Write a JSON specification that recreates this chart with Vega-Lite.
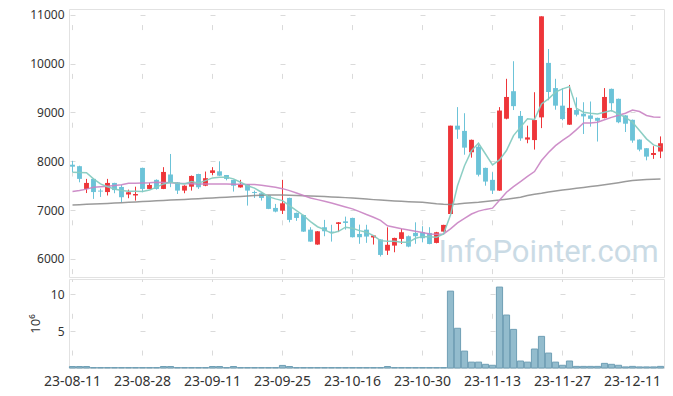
{
  "$schema": "https://vega.github.io/schema/vega-lite/v6.json",
  "padding": {"left": 28, "top": 8, "right": 10, "bottom": 5},
  "background": "white",
  "config": {
    "font": "Noto Sans",
    "view": {"stroke": "#e2e2e2"},
    "axis": {"labelColor": "#333", "labelFontSize": 12, "gridColor": "#dadada", "gridWidth": 1, "ticks": false, "domain": false, "labelPadding": 5}
  },
  "spacing": 0,
  "resolve": {"scale": {"x": "independent"}},
  "data": {"values": [
    {"date": "23-08-11", "o": 7930, "h": 8010, "l": 7780, "c": 7890, "v": 0.2, "m5": 7775, "m20": 7380, "mL": 7107},
    {"date": "23-08-14", "o": 7900, "h": 7910, "l": 7570, "c": 7640, "v": 0.2, "m5": 7770, "m20": 7400, "mL": 7112},
    {"date": "23-08-16", "o": 7434, "h": 7640, "l": 7350, "c": 7557, "v": 0.2, "m5": 7765, "m20": 7430, "mL": 7118},
    {"date": "23-08-17", "o": 7640, "h": 7650, "l": 7230, "c": 7370, "v": 0.06, "m5": 7640, "m20": 7470, "mL": 7125},
    {"date": "23-08-18", "o": 7400, "h": 7440, "l": 7270, "c": 7380, "v": 0.06, "m5": 7537, "m20": 7480, "mL": 7132},
    {"date": "23-08-21", "o": 7370, "h": 7640, "l": 7300, "c": 7557, "v": 0.06, "m5": 7480, "m20": 7490, "mL": 7138},
    {"date": "23-08-22", "o": 7557, "h": 7560, "l": 7346, "c": 7410, "v": 0.06, "m5": 7434, "m20": 7505, "mL": 7145},
    {"date": "23-08-23", "o": 7475, "h": 7516, "l": 7160, "c": 7264, "v": 0.06, "m5": 7400, "m20": 7520, "mL": 7152},
    {"date": "23-08-24", "o": 7320, "h": 7420, "l": 7244, "c": 7366, "v": 0.06, "m5": 7387, "m20": 7550, "mL": 7160},
    {"date": "23-08-25", "o": 7300, "h": 7480, "l": 7195, "c": 7330, "v": 0.06, "m5": 7387, "m20": 7553, "mL": 7167},
    {"date": "23-08-28", "o": 7865, "h": 7870, "l": 7366, "c": 7434, "v": 0.06, "m5": 7380, "m20": 7557, "mL": 7175},
    {"date": "23-08-29", "o": 7434, "h": 7557, "l": 7430, "c": 7516, "v": 0.06, "m5": 7410, "m20": 7560, "mL": 7182},
    {"date": "23-08-30", "o": 7620, "h": 7630, "l": 7420, "c": 7434, "v": 0.06, "m5": 7470, "m20": 7570, "mL": 7190},
    {"date": "23-08-31", "o": 7434, "h": 7880, "l": 7430, "c": 7782, "v": 0.2, "m5": 7537, "m20": 7565, "mL": 7197},
    {"date": "23-09-01", "o": 7730, "h": 8150, "l": 7470, "c": 7570, "v": 0.2, "m5": 7570, "m20": 7560, "mL": 7205},
    {"date": "23-09-04", "o": 7570, "h": 7575, "l": 7330, "c": 7400, "v": 0.06, "m5": 7550, "m20": 7550, "mL": 7212},
    {"date": "23-09-05", "o": 7400, "h": 7510, "l": 7346, "c": 7500, "v": 0.06, "m5": 7537, "m20": 7545, "mL": 7220},
    {"date": "23-09-06", "o": 7480, "h": 7710, "l": 7400, "c": 7700, "v": 0.06, "m5": 7585, "m20": 7540, "mL": 7227},
    {"date": "23-09-07", "o": 7740, "h": 7745, "l": 7434, "c": 7470, "v": 0.06, "m5": 7550, "m20": 7537, "mL": 7235},
    {"date": "23-09-08", "o": 7500, "h": 7790, "l": 7490, "c": 7654, "v": 0.06, "m5": 7605, "m20": 7537, "mL": 7242},
    {"date": "23-09-11", "o": 7762, "h": 7880, "l": 7720, "c": 7815, "v": 0.2, "m5": 7660, "m20": 7537, "mL": 7250},
    {"date": "23-09-12", "o": 7795, "h": 8000, "l": 7700, "c": 7705, "v": 0.2, "m5": 7675, "m20": 7537, "mL": 7257},
    {"date": "23-09-13", "o": 7720, "h": 7720, "l": 7610, "c": 7640, "v": 0.06, "m5": 7675, "m20": 7535, "mL": 7265},
    {"date": "23-09-14", "o": 7620, "h": 7625, "l": 7380, "c": 7500, "v": 0.2, "m5": 7640, "m20": 7532, "mL": 7272},
    {"date": "23-09-15", "o": 7465, "h": 7620, "l": 7460, "c": 7525, "v": 0.06, "m5": 7570, "m20": 7530, "mL": 7280},
    {"date": "23-09-18", "o": 7525, "h": 7530, "l": 7093, "c": 7400, "v": 0.06, "m5": 7500, "m20": 7527, "mL": 7290},
    {"date": "23-09-19", "o": 7370, "h": 7400, "l": 7250, "c": 7350, "v": 0.06, "m5": 7450, "m20": 7525, "mL": 7300},
    {"date": "23-09-20", "o": 7346, "h": 7350, "l": 7195, "c": 7250, "v": 0.06, "m5": 7366, "m20": 7510, "mL": 7305},
    {"date": "23-09-21", "o": 7300, "h": 7300, "l": 7020, "c": 7025, "v": 0.06, "m5": 7276, "m20": 7490, "mL": 7308},
    {"date": "23-09-22", "o": 7045, "h": 7127, "l": 6955, "c": 6970, "v": 0.06, "m5": 7230, "m20": 7470, "mL": 7310},
    {"date": "23-09-25", "o": 6990, "h": 7620, "l": 6920, "c": 7140, "v": 0.35, "m5": 7195, "m20": 7440, "mL": 7311},
    {"date": "23-09-26", "o": 7250, "h": 7255, "l": 6750, "c": 6800, "v": 0.2, "m5": 7093, "m20": 7400, "mL": 7305},
    {"date": "23-09-27", "o": 6943, "h": 6950, "l": 6780, "c": 6840, "v": 0.06, "m5": 6990, "m20": 7350, "mL": 7300},
    {"date": "23-10-04", "o": 6900, "h": 6905, "l": 6555, "c": 6560, "v": 0.06, "m5": 6890, "m20": 7300, "mL": 7295},
    {"date": "23-10-05", "o": 6600, "h": 6650, "l": 6350, "c": 6355, "v": 0.06, "m5": 6765, "m20": 7250, "mL": 7290},
    {"date": "23-10-06", "o": 6295, "h": 6570, "l": 6290, "c": 6566, "v": 0.06, "m5": 6660, "m20": 7215, "mL": 7284},
    {"date": "23-10-10", "o": 6648, "h": 6800, "l": 6465, "c": 6566, "v": 0.06, "m5": 6600, "m20": 7180, "mL": 7277},
    {"date": "23-10-11", "o": 6560, "h": 6700, "l": 6355, "c": 6540, "v": 0.06, "m5": 6525, "m20": 7147, "mL": 7270},
    {"date": "23-10-12", "o": 6717, "h": 6755, "l": 6550, "c": 6750, "v": 0.06, "m5": 6566, "m20": 7105, "mL": 7263},
    {"date": "23-10-13", "o": 6770, "h": 6867, "l": 6600, "c": 6737, "v": 0.06, "m5": 6650, "m20": 7065, "mL": 7256},
    {"date": "23-10-16", "o": 6840, "h": 6845, "l": 6440, "c": 6445, "v": 0.06, "m5": 6630, "m20": 7025, "mL": 7250},
    {"date": "23-10-17", "o": 6512, "h": 6703, "l": 6310, "c": 6445, "v": 0.06, "m5": 6580, "m20": 6970, "mL": 7238},
    {"date": "23-10-18", "o": 6600, "h": 6700, "l": 6330, "c": 6458, "v": 0.06, "m5": 6547, "m20": 6910, "mL": 7226},
    {"date": "23-10-19", "o": 6440, "h": 6490, "l": 6295, "c": 6480, "v": 0.06, "m5": 6478, "m20": 6855, "mL": 7215},
    {"date": "23-10-20", "o": 6400, "h": 6400, "l": 6050, "c": 6082, "v": 0.06, "m5": 6375, "m20": 6790, "mL": 7205},
    {"date": "23-10-23", "o": 6170, "h": 6648, "l": 6082, "c": 6290, "v": 0.2, "m5": 6362, "m20": 6680, "mL": 7195},
    {"date": "23-10-24", "o": 6273, "h": 6435, "l": 6137, "c": 6430, "v": 0.06, "m5": 6362, "m20": 6650, "mL": 7188},
    {"date": "23-10-25", "o": 6410, "h": 6615, "l": 6307, "c": 6547, "v": 0.06, "m5": 6340, "m20": 6620, "mL": 7180},
    {"date": "23-10-26", "o": 6465, "h": 6480, "l": 6240, "c": 6253, "v": 0.06, "m5": 6340, "m20": 6595, "mL": 7173},
    {"date": "23-10-27", "o": 6533, "h": 6750, "l": 6310, "c": 6465, "v": 0.06, "m5": 6424, "m20": 6565, "mL": 7166},
    {"date": "23-10-30", "o": 6547, "h": 6670, "l": 6340, "c": 6424, "v": 0.06, "m5": 6457, "m20": 6540, "mL": 7160},
    {"date": "23-10-31", "o": 6533, "h": 6650, "l": 6300, "c": 6307, "v": 0.06, "m5": 6457, "m20": 6512, "mL": 7147},
    {"date": "23-11-01", "o": 6328, "h": 6555, "l": 6320, "c": 6547, "v": 0.06, "m5": 6445, "m20": 6505, "mL": 7130},
    {"date": "23-11-02", "o": 6560, "h": 6700, "l": 6555, "c": 6697, "v": 0.06, "m5": 6512, "m20": 6512, "mL": 7120},
    {"date": "23-11-03", "o": 6920, "h": 8730, "l": 6920, "c": 8730, "v": 10.45, "m5": 6900, "m20": 6615, "mL": 7115},
    {"date": "23-11-06", "o": 8730, "h": 9110, "l": 8460, "c": 8650, "v": 5.4, "m5": 7500, "m20": 6737, "mL": 7125},
    {"date": "23-11-07", "o": 8623, "h": 8985, "l": 8135, "c": 8280, "v": 2.3, "m5": 7910, "m20": 6830, "mL": 7140},
    {"date": "23-11-08", "o": 8185, "h": 8445, "l": 8075, "c": 8440, "v": 0.8, "m5": 8220, "m20": 6920, "mL": 7150},
    {"date": "23-11-09", "o": 8300, "h": 8340, "l": 7690, "c": 7725, "v": 0.8, "m5": 8370, "m20": 6980, "mL": 7160},
    {"date": "23-11-10", "o": 7865, "h": 7870, "l": 7500, "c": 7585, "v": 0.5, "m5": 8150, "m20": 7015, "mL": 7175},
    {"date": "23-11-13", "o": 7620, "h": 7776, "l": 7330, "c": 7400, "v": 0.37, "m5": 7925, "m20": 7040, "mL": 7190},
    {"date": "23-11-14", "o": 7400, "h": 9110, "l": 7395, "c": 9040, "v": 11.0, "m5": 8030, "m20": 7200, "mL": 7205},
    {"date": "23-11-15", "o": 8873, "h": 9690, "l": 8860, "c": 9318, "v": 7.2, "m5": 8220, "m20": 7366, "mL": 7225},
    {"date": "23-11-16", "o": 9436, "h": 10050, "l": 9050, "c": 9130, "v": 5.25, "m5": 8527, "m20": 7480, "mL": 7245},
    {"date": "23-11-17", "o": 8930, "h": 9030, "l": 8420, "c": 8470, "v": 0.95, "m5": 8700, "m20": 7585, "mL": 7265},
    {"date": "23-11-20", "o": 8445, "h": 8730, "l": 8370, "c": 8490, "v": 0.8, "m5": 8870, "m20": 7690, "mL": 7300},
    {"date": "23-11-21", "o": 8435, "h": 9415, "l": 8240, "c": 8845, "v": 2.58, "m5": 8857, "m20": 7790, "mL": 7325},
    {"date": "23-11-22", "o": 8900, "h": 10970, "l": 8680, "c": 10970, "v": 4.3, "m5": 9176, "m20": 8015, "mL": 7345},
    {"date": "23-11-23", "o": 10016, "h": 10300, "l": 9250, "c": 9420, "v": 2.03, "m5": 9280, "m20": 8180, "mL": 7370},
    {"date": "23-11-24", "o": 9500, "h": 9690, "l": 9057, "c": 9140, "v": 0.8, "m5": 9416, "m20": 8320, "mL": 7392},
    {"date": "23-11-27", "o": 9140, "h": 9500, "l": 8840, "c": 8865, "v": 0.37, "m5": 9484, "m20": 8430, "mL": 7414},
    {"date": "23-11-28", "o": 8750, "h": 9565, "l": 8745, "c": 9094, "v": 0.95, "m5": 9530, "m20": 8527, "mL": 7430},
    {"date": "23-11-29", "o": 9050, "h": 9310, "l": 8920, "c": 8955, "v": 0.22, "m5": 9086, "m20": 8650, "mL": 7448},
    {"date": "23-11-30", "o": 8975, "h": 9210, "l": 8560, "c": 8920, "v": 0.22, "m5": 9006, "m20": 8787, "mL": 7465},
    {"date": "23-12-01", "o": 8940, "h": 9225, "l": 8710, "c": 8870, "v": 0.22, "m5": 8985, "m20": 8787, "mL": 7483},
    {"date": "23-12-04", "o": 8890, "h": 8895, "l": 8405, "c": 8830, "v": 0.22, "m5": 8970, "m20": 8800, "mL": 7500},
    {"date": "23-12-05", "o": 8885, "h": 9500, "l": 8880, "c": 9318, "v": 0.63, "m5": 9006, "m20": 8850, "mL": 7520},
    {"date": "23-12-06", "o": 9484, "h": 9490, "l": 9020, "c": 9190, "v": 0.5, "m5": 9040, "m20": 8900, "mL": 7542},
    {"date": "23-12-07", "o": 9280, "h": 9285, "l": 8780, "c": 8800, "v": 0.37, "m5": 8970, "m20": 8945, "mL": 7563},
    {"date": "23-12-08", "o": 8940, "h": 8945, "l": 8600, "c": 8770, "v": 0.15, "m5": 8900, "m20": 8985, "mL": 7584},
    {"date": "23-12-11", "o": 8850, "h": 8855, "l": 8380, "c": 8425, "v": 0.22, "m5": 8800, "m20": 9050, "mL": 7605},
    {"date": "23-12-12", "o": 8445, "h": 8450, "l": 8205, "c": 8240, "v": 0.15, "m5": 8630, "m20": 9020, "mL": 7615},
    {"date": "23-12-13", "o": 8268, "h": 8270, "l": 8020, "c": 8096, "v": 0.15, "m5": 8460, "m20": 8940, "mL": 7625},
    {"date": "23-12-14", "o": 8130, "h": 8310, "l": 8050, "c": 8170, "v": 0.15, "m5": 8336, "m20": 8910, "mL": 7633},
    {"date": "23-12-15", "o": 8200, "h": 8510, "l": 8065, "c": 8370, "v": 0.22, "m5": 8290, "m20": 8900, "mL": 7640}
  ]},
  "vconcat": [
    {
      "width": 595,
      "height": 268,
      "encoding": {
        "x": {"field": "date", "type": "ordinal", "sort": null,
          "scale": {"paddingInner": 0.3, "paddingOuter": 0.15},
          "axis": {"title": null, "labels": false, "grid": true,
            "values": ["23-08-11","23-08-28","23-09-11","23-09-25","23-10-16","23-10-30","23-11-13","23-11-27","23-12-11"],
            "gridDash": [5, 43.816], "gridDashOffset": 33.24}}
      },
      "layer": [
        {
          "mark": {"type": "rule", "strokeWidth": 1},
          "encoding": {
            "y": {"field": "l", "type": "quantitative",
              "scale": {"domain": [5630, 11120], "nice": false, "zero": false},
              "axis": {"title": null, "values": [6000,7000,8000,9000,10000,11000], "format": "d",
                "gridDash": [5, 65], "gridDashOffset": 69}},
            "y2": {"field": "h"},
            "color": {"condition": {"test": "datum.c >= datum.o", "value": "#ee3539"}, "value": "#6cc3d8"}
          }
        },
        {
          "mark": {"type": "bar"},
          "encoding": {
            "y": {"field": "o", "type": "quantitative"},
            "y2": {"field": "c"},
            "color": {"condition": {"test": "datum.c >= datum.o", "value": "#ee3539"}, "value": "#6cc3d8"}
          }
        },
        {
          "mark": {"type": "line", "color": "#8a8a8a", "strokeWidth": 1.5, "opacity": 0.85},
          "encoding": {"y": {"field": "mL", "type": "quantitative"}}
        },
        {
          "mark": {"type": "line", "color": "#c983c3", "strokeWidth": 1.5, "opacity": 0.9},
          "encoding": {"y": {"field": "m20", "type": "quantitative"}}
        },
        {
          "mark": {"type": "line", "color": "#86cbc1", "strokeWidth": 1.5, "opacity": 0.95},
          "encoding": {"y": {"field": "m5", "type": "quantitative"}}
        },
        {
          "data": {"values": [{"t": "InfoPointer.com"}]},
          "mark": {"type": "text", "fontSize": 31, "color": "#b5cddb", "opacity": 0.7, "align": "center", "baseline": "middle", "font": "Roboto"},
          "encoding": {
            "x": {"datum": "23-11-23"},
            "y": {"datum": 6120},
            "text": {"field": "t"}
          }
        }
      ]
    },
    {
      "width": 595,
      "height": 89,
      "mark": {"type": "bar", "color": "#93bccd", "stroke": "#6f9fb5", "strokeWidth": 1},
      "encoding": {
        "x": {"field": "date", "type": "ordinal", "sort": null,
          "scale": {"paddingInner": 0.12, "paddingOuter": 0.06},
          "axis": {"title": null, "labelAngle": 0, "labelFontSize": 14, "labelPadding": 6, "grid": true,
            "values": ["23-08-11","23-08-28","23-09-11","23-09-25","23-10-16","23-10-30","23-11-13","23-11-27","23-12-11"],
            "gridDash": [5, 31.78], "gridDashOffset": 2.5}},
        "y": {"field": "v", "type": "quantitative",
          "scale": {"domain": [0, 12.1], "nice": false},
          "axis": {"title": "10⁶", "titleFontWeight": "normal", "titleFontSize": 13, "titleColor": "#333", "titlePadding": 8,
            "values": [5, 10], "gridDash": [5, 65], "gridDashOffset": 69}}
      }
    }
  ]
}
